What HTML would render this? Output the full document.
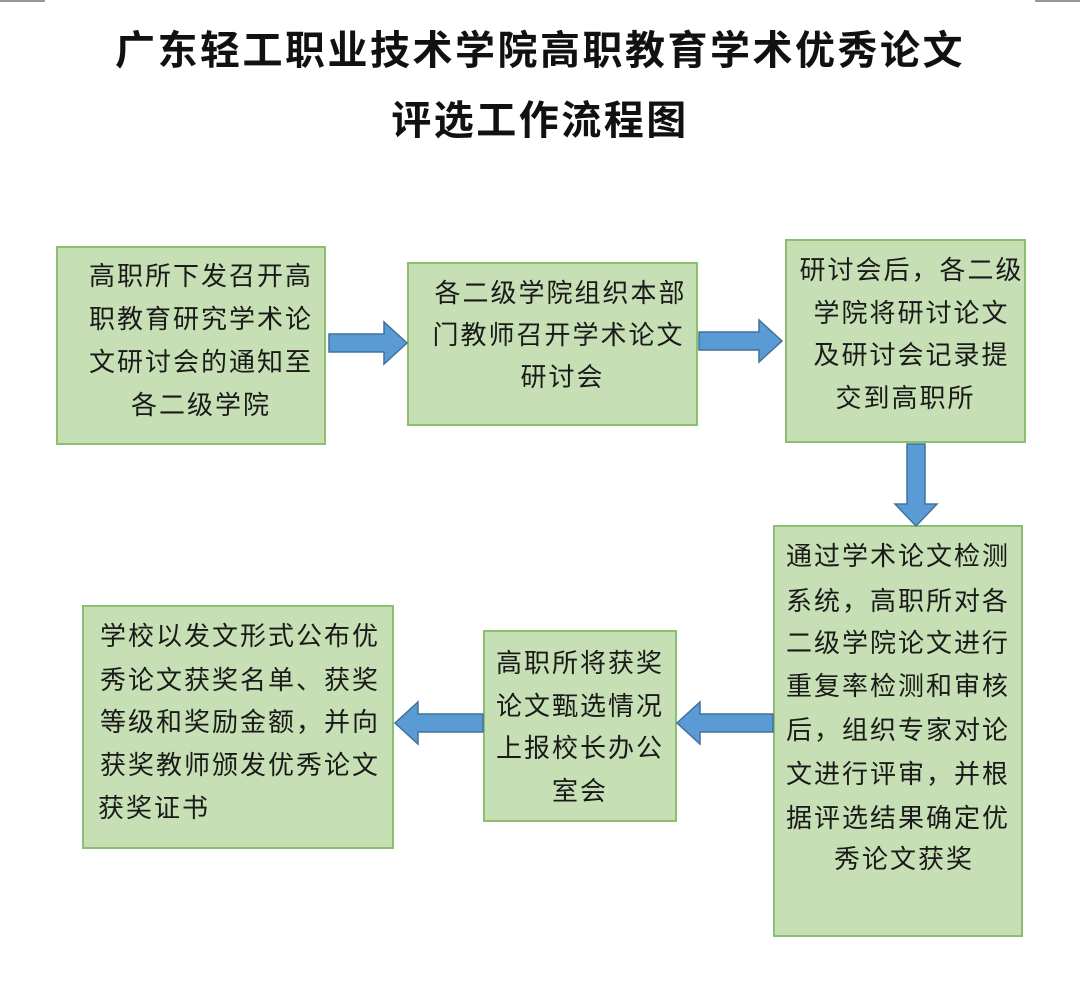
<!DOCTYPE html>
<html><head><meta charset="utf-8"><style>
body{margin:0;width:1080px;height:1007px;background:#fff;position:relative;overflow:hidden;font-family:"Liberation Sans","Noto Sans CJK SC",sans-serif;}
.t{position:absolute;left:0;width:1080px;text-align:center;font-weight:bold;font-size:40px;letter-spacing:2.5px;color:#111;}
.b{position:absolute;background:#c6dfb4;border:2px solid #8dbf72;box-sizing:border-box;}
.b div{position:absolute;left:0;width:100%;text-align:center;font-size:26px;letter-spacing:2px;color:#1a1a1a;white-space:nowrap;line-height:30px;}
svg{position:absolute;left:0;top:0;}
</style></head><body>
<div class="t" style="top:18px">广东轻工职业技术学院高职教育学术优秀论文</div>
<div class="t" style="top:88px">评选工作流程图</div>

<div class="b" style="left:56px;top:246px;width:270px;height:199px">
<div style="top:13px;left:10px">高职所下发召开高</div>
<div style="top:56px;left:10px">职教育研究学术论</div>
<div style="top:99px;left:10px">文研讨会的通知至</div>
<div style="top:142px;left:10px">各二级学院</div></div>

<div class="b" style="left:407px;top:262px;width:291px;height:164px">
<div style="top:14px;left:8px">各二级学院组织本部</div>
<div style="top:56px;left:6px">门教师召开学术论文</div>
<div style="top:98px;left:10px">研讨会</div></div>

<div class="b" style="left:785px;top:239px;width:241px;height:204px">
<div style="top:14px;left:6px">研讨会后，各二级</div>
<div style="top:57px;left:6px">学院将研讨论文</div>
<div style="top:99px;left:6px">及研讨会记录提</div>
<div style="top:142px;left:0px">交到高职所</div></div>

<div class="b" style="left:773px;top:525px;width:250px;height:412px">
<div style="top:14px;left:0px">通过学术论文检测</div>
<div style="top:59px;left:0px">系统，高职所对各</div>
<div style="top:101px;left:0px">二级学院论文进行</div>
<div style="top:144px;left:0px">重复率检测和审核</div>
<div style="top:188px;left:0px">后，组织专家对论</div>
<div style="top:232px;left:0px">文进行评审，并根</div>
<div style="top:276px;left:0px">据评选结果确定优</div>
<div style="top:317px;left:6px">秀论文获奖</div></div>

<div class="b" style="left:483px;top:630px;width:194px;height:192px">
<div style="top:16px">高职所将获奖</div>
<div style="top:59px">论文甄选情况</div>
<div style="top:101px">上报校长办公</div>
<div style="top:144px">室会</div></div>

<div class="b" style="left:82px;top:605px;width:312px;height:244px">
<div style="top:14px;left:2px">学校以发文形式公布优</div>
<div style="top:58px;left:2px">秀论文获奖名单、获奖</div>
<div style="top:100px;left:2px">等级和奖励金额，并向</div>
<div style="top:143px;left:2px">获奖教师颁发优秀论文</div>
<div style="top:186px;left:-84px">获奖证书</div></div>

<svg width="1080" height="1007">
<g fill="#5b9bd5" stroke="#41719c" stroke-width="1.5">
<polygon points="329,334 384,334 384,322 407,343 384,364 384,352 329,352"/>
<polygon points="699,332 759,332 759,320 782,341 759,362 759,350 699,350"/>
<polygon points="907,444 925,444 925,504 937,504 916,526 895,504 907,504"/>
<polygon points="773,714 700,714 700,702 677,723 700,744 700,732 773,732"/>
<polygon points="483,714 418,714 418,702 395,723 418,744 418,732 483,732"/>
</g>
<line x1="0" y1="1" x2="45" y2="1" stroke="#999" stroke-width="2"/>
<line x1="1035" y1="1" x2="1080" y2="1" stroke="#999" stroke-width="2"/>
</svg>
</body></html>
